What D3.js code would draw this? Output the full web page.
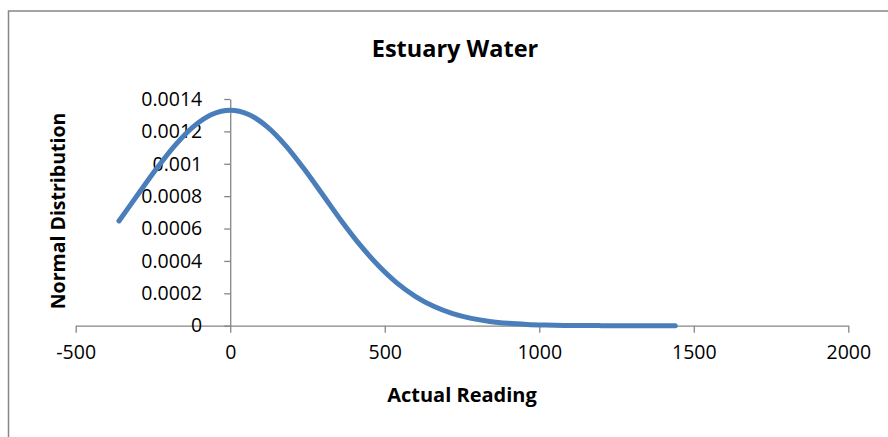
<!DOCTYPE html>
<html>
<head>
<meta charset="utf-8">
<script src="https://cdn.jsdelivr.net/npm/d3@7"></script>
<style>
  html, body { margin: 0; padding: 0; background: #fff; }
  svg { display: block; }
  text { font-family: "Open Sans", "Noto Sans", sans-serif; fill: #000; }
</style>
</head>
<body>
<svg id="chart" width="888" height="437"></svg>
<script>
// ---- data ----
const title = "Estuary Water";
const xTitle = "Actual Reading";
const yTitle = "Normal Distribution";
const readings = [-360, -300, -240, -180, -120, -60, 0, 60, 120, 180, 240, 300, 360, 420, 480, 540, 600, 660, 720, 780, 840, 900, 960, 1020, 1080, 1140, 1200, 1260, 1320, 1380, 1440];
const density = [0.000647, 0.000807, 0.000966, 0.001111, 0.001228, 0.001304, 0.001330, 0.001304, 0.001228, 0.001111, 0.000966, 0.000807, 0.000647, 0.000499, 0.000370, 0.000263, 0.000180, 0.000118, 0.0000746, 0.0000453, 0.0000264, 0.0000148, 0.0000079, 0.0000041, 0.0000020, 0.0000010, 0.00000045, 0.0000002, 0.0000001, 0.00000003, 0.00000001];
const xTicks = [-500, 0, 500, 1000, 1500, 2000];
const xTickLabels = ["-500", "0", "500", "1000", "1500", "2000"];
const yTicks = [0, 0.0002, 0.0004, 0.0006, 0.0008, 0.001, 0.0012, 0.0014];
const yTickLabels = ["0", "0.0002", "0.0004", "0.0006", "0.0008", "0.001", "0.0012", "0.0014"];

const svg = d3.select("#chart");
const axisColor = "#868686";

// outer chart border
svg.append("rect")
  .attr("x", 8.5).attr("y", 11)
  .attr("width", 900).attr("height", 500)
  .attr("fill", "none").attr("stroke", axisColor).attr("stroke-width", 1.5);

const x = d3.scaleLinear().domain([-500, 2000]).range([75.7, 848.3]);
const y = d3.scaleLinear().domain([0, 0.0014]).range([325.7, 99]);

// x axis (at y = 0)
const xAxis = d3.axisBottom(x).tickValues(xTicks).tickSize(7).tickSizeOuter(0).tickPadding(12)
  .tickFormat((d, i) => xTickLabels[i]);
const gx = svg.append("g").attr("transform", `translate(0,${y(0)})`).call(xAxis);
gx.select(".domain").attr("stroke", axisColor).attr("stroke-width", 1.3);
gx.selectAll(".tick line").attr("stroke", axisColor).attr("stroke-width", 1.3);
gx.selectAll(".tick text").attr("font-size", 19.5).attr("font-family", "Open Sans").attr("fill", "#000");

// y axis (at x = 0)
const yAxis = d3.axisLeft(y).tickValues(yTicks).tickSize(6).tickSizeOuter(0).tickPadding(22)
  .tickFormat((d, i) => yTickLabels[i]);
const gy = svg.append("g").attr("transform", `translate(${x(0)},0)`).call(yAxis);
gy.select(".domain").attr("stroke", axisColor).attr("stroke-width", 1.3);
gy.selectAll(".tick line").attr("stroke", axisColor).attr("stroke-width", 1.3);
gy.selectAll(".tick text").attr("font-size", 19.5).attr("font-family", "Open Sans").attr("fill", "#000");

// series line
const pts = readings.map((r, i) => [r, density[i]]);
const line = d3.line().x(d => x(d[0])).y(d => y(d[1])).curve(d3.curveCatmullRom.alpha(0.5));
svg.append("path").datum(pts)
  .attr("d", line)
  .attr("fill", "none")
  .attr("stroke", "#4A7EBB")
  .attr("stroke-width", 5)
  .attr("stroke-linecap", "round")
  .attr("stroke-linejoin", "round");

// titles
svg.append("text").attr("x", 455).attr("y", 57).attr("text-anchor", "middle")
  .attr("font-size", 23.5).attr("font-weight", "bold").text(title);
svg.append("text").attr("x", 462).attr("y", 402).attr("text-anchor", "middle")
  .attr("font-size", 20).attr("font-weight", "bold").text(xTitle);
svg.append("text").attr("transform", "translate(65,211) rotate(-90)").attr("text-anchor", "middle")
  .attr("font-size", 19.5).attr("font-weight", "bold").text(yTitle);
</script>
</body>
</html>
